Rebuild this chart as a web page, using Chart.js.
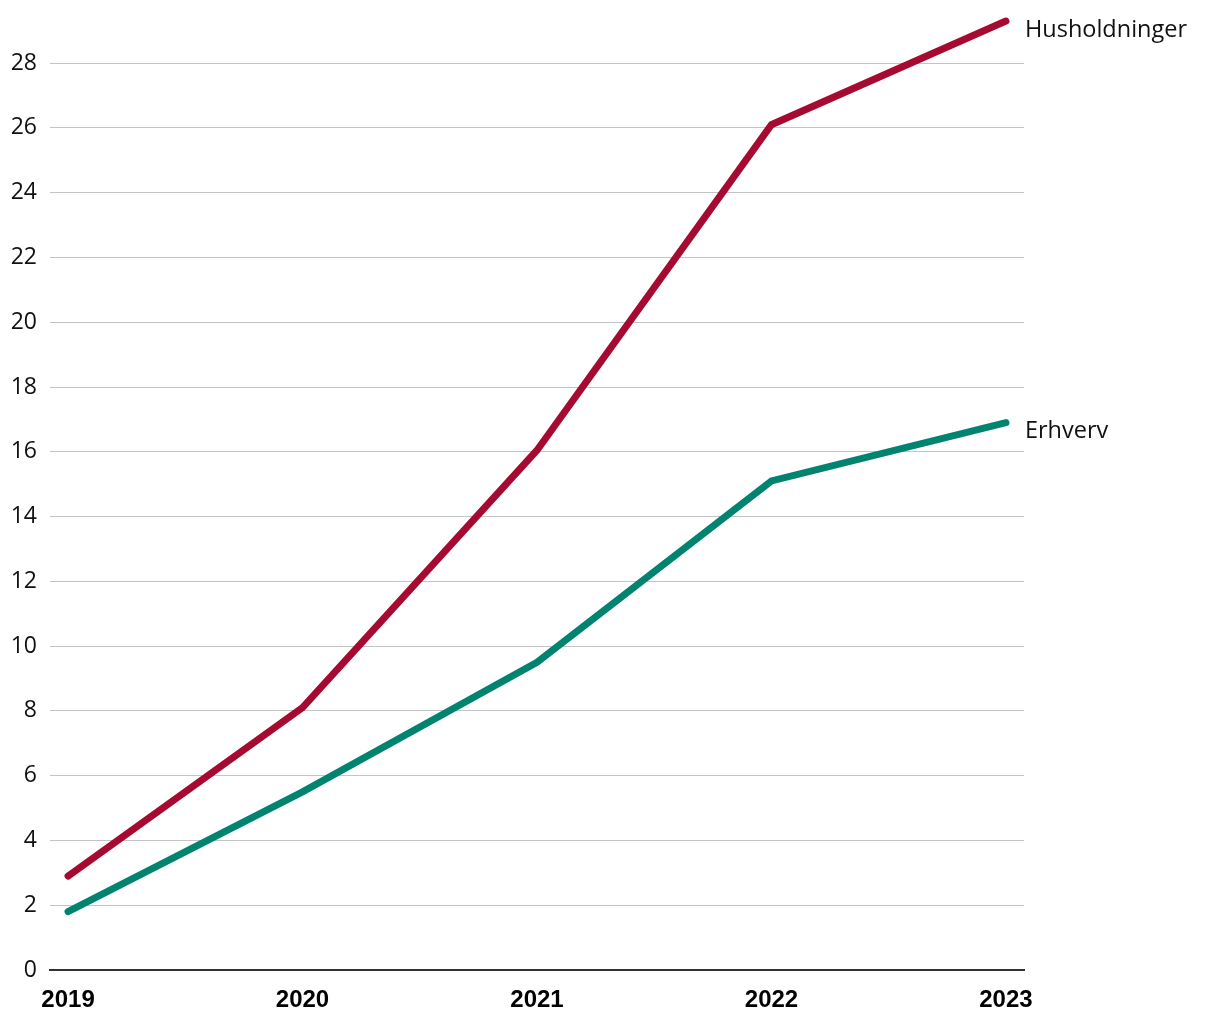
<!DOCTYPE html>
<html>
<head>
<meta charset="utf-8">
<script src="https://cdn.jsdelivr.net/npm/chart.js@4"></script>
<style>
  html, body { margin: 0; padding: 0; background: #fff; }
  #wrap { width: 1220px; height: 1020px; position: relative; }
</style>
</head>
<body>
<div id="wrap"><canvas id="lineChart"></canvas></div>
<script>
var years = [2019, 2020, 2021, 2022, 2023];
var husholdninger = [2.9, 8.1, 16.05, 26.1, 29.3];
var erhverv = [1.8, 5.5, 9.5, 15.1, 16.9];
var seriesNames = ['Husholdninger', 'Erhverv'];
var yTicks = [0, 2, 4, 6, 8, 10, 12, 14, 16, 18, 20, 22, 24, 26, 28];

function toPoints(values) {
    return values.map(function (v, i) { return { x: years[i], y: v }; });
}

// Navn ved enden av hver linje
var endLabels = {
    id: 'endLabels',
    afterDatasetsDraw: function (chart) {
        var ctx = chart.ctx;
        ctx.save();
        ctx.font = '23.5px "Open Sans"';
        ctx.fillStyle = '#111';
        ctx.textBaseline = 'middle';
        ctx.textAlign = 'left';
        chart.data.datasets.forEach(function (ds, i) {
            var pts = chart.getDatasetMeta(i).data;
            var last = pts[pts.length - 1];
            ctx.fillText(ds.label, last.x + 19, last.y + 9);
        });
        ctx.restore();
    }
};

var ctx = document.getElementById('lineChart').getContext('2d');
new Chart(ctx, {
    type: 'line',
    data: {
        datasets: [{
            label: seriesNames[0],
            data: toPoints(husholdninger),
            borderColor: '#a60a30',
            borderWidth: 7,
            borderCapStyle: 'round',
            pointRadius: 0,
            tension: 0,
            clip: false
        }, {
            label: seriesNames[1],
            data: toPoints(erhverv),
            borderColor: '#00836f',
            borderWidth: 7,
            borderCapStyle: 'round',
            pointRadius: 0,
            tension: 0,
            clip: false
        }]
    },
    options: {
        responsive: true,
        maintainAspectRatio: false,
        animation: false,
        layout: { padding: { top: 0, right: 196, left: 0, bottom: 0 } },
        plugins: {
            legend: { display: false },
            tooltip: { enabled: false }
        },
        scales: {
            x: {
                type: 'linear',
                min: 2018.923,
                max: 2023.077,
                afterBuildTicks: function (axis) {
                    axis.ticks = years.map(function (y) { return { value: y }; });
                },
                afterFit: function (axis) {
                    axis.height = 50;
                    axis.paddingLeft = 0;
                    axis.paddingRight = 0;
                },
                grid: { display: false, drawTicks: false },
                border: { display: true, color: '#333', width: 2 },
                ticks: {
                    color: '#000',
                    padding: 16,
                    maxRotation: 0,
                    font: { family: '"Liberation Sans", Arial', size: 24, weight: 'bold' },
                    callback: function (v) { return String(v); }
                }
            },
            y: {
                min: 0,
                max: 29.95,
                afterBuildTicks: function (axis) {
                    axis.ticks = yTicks.map(function (v) { return { value: v }; });
                },
                afterFit: function (axis) {
                    axis.width = 50;
                    axis.paddingTop = 0;
                    axis.paddingBottom = 0;
                },
                grid: { color: '#c4c4c4', lineWidth: 1, drawTicks: false },
                border: { display: false },
                ticks: {
                    color: '#111',
                    padding: 13,
                    font: { family: '"Open Sans"', size: 23 }
                }
            }
        }
    },
    plugins: [endLabels]
});
</script>
</body>
</html>
